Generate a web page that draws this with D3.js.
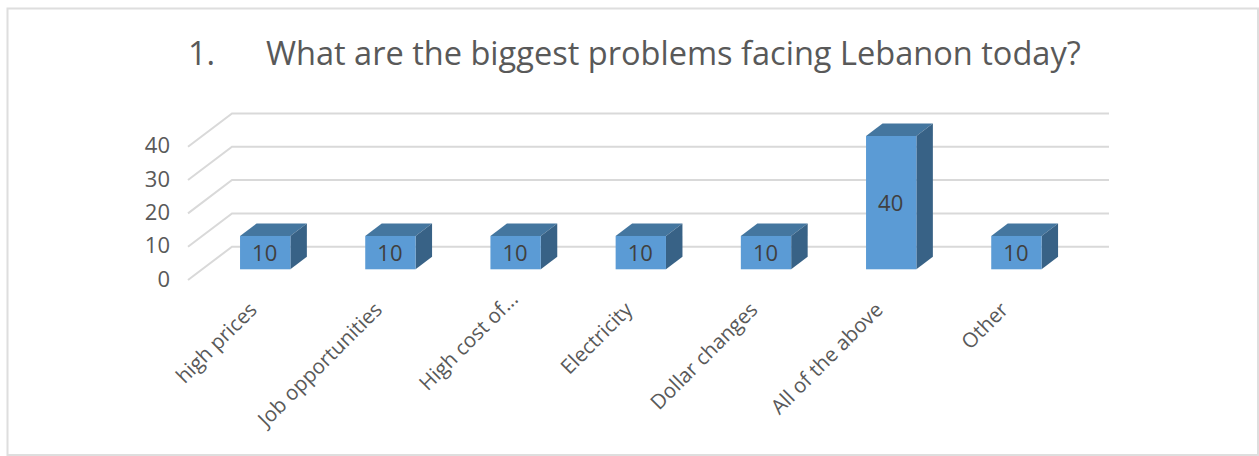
<!DOCTYPE html>
<html>
<head>
<meta charset="utf-8">
<script src="https://cdn.jsdelivr.net/npm/d3@7"></script>
<style>
html, body { margin: 0; background: #fff; }
text { font-family: "Open Sans", sans-serif; }
</style>
</head>
<body>
<div class="chart"></div>
<script>
const categories = ["high prices", "Job opportunities", "High cost of...", "Electricity", "Dollar changes", "All of the above", "Other"];
const values = [10, 10, 10, 10, 10, 40, 10];
const yTicks = [0, 10, 20, 30, 40];
const title = "1.      What are the biggest problems facing Lebanon today?";

const svg = d3.select(".chart").append("svg")
  .attr("width", 1259).attr("height", 456)
  .style("display", "block");

// chart frame
svg.append("rect")
  .attr("x", 7.5).attr("y", 8.5)
  .attr("width", 1250.5).attr("height", 446.5)
  .attr("fill", "#fff").attr("stroke", "#dedede").attr("stroke-width", 2);

svg.append("text")
  .text(title)
  .attr("x", 188).attr("y", 65)
  .attr("font-size", 32.55)
  .attr("fill", "#595959")
  .style("white-space", "pre");

const x = d3.scaleBand().domain(categories).range([202.6, 1079]).paddingInner(0.598).paddingOuter(0.299);
const y = d3.scaleLinear().domain([0, 40]).range([269.3, 136]);

// depth of the fake 3d floor and of the bars
const floorDx = 44, floorDy = -33.3, floorLeft = 188, floorFront = 280;
const barDx = 16.5, barDy = -12.5;

const grid = svg.append("g").attr("fill", "none").attr("stroke", "#d9d9d9").attr("stroke-width", 2);
grid.selectAll("path").data(yTicks).join("path")
  .attr("d", d => {
    const f = floorFront - (y(0) - y(d));
    return `M${floorLeft},${f}L${floorLeft + floorDx},${f + floorDy}L1109,${f + floorDy}`;
  });

svg.append("g").selectAll("text").data(yTicks).join("text")
  .text(d => d)
  .attr("x", 170)
  .attr("y", d => floorFront - (y(0) - y(d)) - 1)
  .attr("dy", "0.35em")
  .attr("text-anchor", "end")
  .attr("font-size", 22)
  .attr("fill", "#595959");

const bars = svg.append("g").selectAll("g").data(categories).join("g");

bars.append("path")
  .attr("fill", "#44769f")
  .attr("d", d => {
    const l = x(d), r = x(d) + x.bandwidth(), t = y(values[categories.indexOf(d)]);
    return `M${l},${t}L${l + barDx},${t + barDy}L${r + barDx},${t + barDy}L${r},${t}Z`;
  });

bars.append("path")
  .attr("fill", "#386286")
  .attr("d", d => {
    const r = x(d) + x.bandwidth(), t = y(values[categories.indexOf(d)]);
    return `M${r},${t}L${r + barDx},${t + barDy}L${r + barDx},${y(0) + barDy}L${r},${y(0)}Z`;
  });

bars.append("rect")
  .attr("x", d => x(d))
  .attr("y", d => y(values[categories.indexOf(d)]))
  .attr("width", x.bandwidth())
  .attr("height", d => y(0) - y(values[categories.indexOf(d)]))
  .attr("fill", "#5b9bd5");

bars.append("text")
  .text(d => values[categories.indexOf(d)])
  .attr("x", d => x(d) + x.bandwidth() / 2 - 0.5)
  .attr("y", d => (y(0) + y(values[categories.indexOf(d)])) / 2 + 1)
  .attr("dy", "0.35em")
  .attr("text-anchor", "middle")
  .attr("font-size", 22)
  .attr("fill", "#404040");

// the cut off label sits further along its slant
svg.append("g").selectAll("text").data(categories).join("text")
  .text(d => d)
  .attr("text-anchor", "end")
  .attr("font-size", 20.5)
  .attr("fill", "#595959")
  .attr("dx", d => d.endsWith("...") ? 15 : 0)
  .attr("transform", d => `translate(${x(d) + x.bandwidth() / 2 - 7},${311}) rotate(-45)`);
</script>
</body>
</html>
